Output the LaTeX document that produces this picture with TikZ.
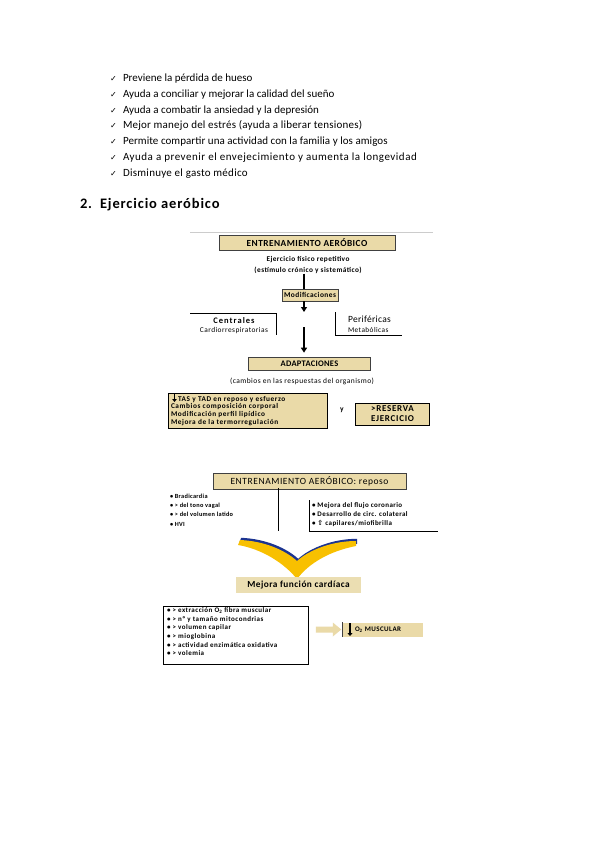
\documentclass[tikz,border=0pt]{standalone}
\usepackage{fontspec}
\setmainfont{Carlito}
\newfontfamily\djv{DejaVu Sans}
\usetikzlibrary{arrows.meta}
\definecolor{tanfill}{RGB}{234,218,168}
\definecolor{tanlight}{RGB}{235,222,178}
\definecolor{edge}{RGB}{64,64,64}
\definecolor{chevY}{RGB}{248,192,0}
\definecolor{chevB}{RGB}{28,52,145}
\newcommand\dgfont[3]{\addfontfeatures{LetterSpace=#3}\fontsize{#1}{#2}\selectfont}
\begin{document}
\begin{tikzpicture}[x=1pt,y=-1pt,
  txt/.style={inner sep=0,outer sep=0},
  chk/.style={txt,anchor=base west},
  tick/.style={txt,anchor=base west,font=\djv\fontsize{8}{9}\selectfont},
  tanbox/.style={draw=edge,line width=0.6pt,fill=tanfill,inner sep=0},
  heavy/.style={line width=2.6pt},
  heavyarrow/.style={line width=2.6pt,-{Triangle[width=6pt,length=5pt]}},
  thinline/.style={line width=0.6pt}
]
\useasboundingbox (0,0) rectangle (599,848);
\fill[white] (0,0) rectangle (599,848);

% checklist
\foreach \ls/\t [count=\i] in {0/Previene la pérdida de hueso,
  0/Ayuda a conciliar y mejorar la calidad del sueño,
  0/Ayuda a combatir la ansiedad y la depresión,
  2/Mejor manejo del estrés (ayuda a liberar tensiones),
  0.5/Permite compartir una actividad con la familia y los amigos,
  4.7/Ayuda a prevenir el envejecimiento y aumenta la longevidad,
  2.5/Disminuye el gasto médico}{
  \node[tick] (tick\i) at (110,{81.5+15.8*(\i-1)}) {✓};
  \node[chk,font=\dgfont{11}{12}{\ls}] (item\i) at (123,{81.5+15.8*(\i-1)}) {\t};
}

% heading
\node[txt,anchor=base west,font=\bfseries\dgfont{14.5}{16}{6}] (hnum) at (80,208.5) {2.};
\node[txt,anchor=base west,font=\bfseries\dgfont{14.5}{16}{6}] (head) at (100,208.5) {Ejercicio aeróbico};

% ---------- diagram 1
\draw[black!20,line width=0.6pt] (190,232) coordinate (tl1) -- (433,232) coordinate (tl2);
\node[tanbox,minimum width=176pt,minimum height=15pt,font=\bfseries\dgfont{9.3}{10}{5}] (ent1) at (307,242.5) {ENTRENAMIENTO AERÓBICO};
\node[txt,align=center,font=\bfseries\dgfont{7.3}{11}{6}] (ejer) at (308,265) {Ejercicio físico repetitivo\\(estímulo crónico y sistemático)};
\coordinate (ax) at (304,0);
\node[tanbox,minimum width=56pt,minimum height=12pt,font=\bfseries\dgfont{7.4}{9}{6}] (mod) at (310,295) {Modificaciones};
\draw[heavy] (ejer.south -| ax) -- (mod.north -| ax);
\coordinate (s1) at (304,312);
\draw[heavyarrow] (mod.south -| ax) -- (s1);

\node[txt,font=\bfseries\dgfont{8.5}{9}{12}] (cent) at (234,320.5) {Centrales};
\node[txt,font=\dgfont{7.4}{8}{6}] (cardio) at (234,331) {Cardiorrespiratorias};
\draw[thinline] (190,313) coordinate (cb1) -- (276.5,313) coordinate (cb2) -- (276.5,335) coordinate (cb3);
\node[txt,anchor=west,font=\dgfont{9.5}{10}{3}] (peri) at (348,319) {Periféricas};
\node[txt,anchor=west,font=\dgfont{7.3}{8}{6}] (metab) at (348,330) {Metabólicas};
\draw[thinline] (335.5,312) coordinate (pb1) -- (335.5,335) coordinate (pb2) -- (402,335) coordinate (pb3);

\node[tanbox,minimum width=122pt,minimum height=13pt,font=\bfseries\dgfont{8.5}{10}{3}] (adapt) at (309.5,363.5) {ADAPTACIONES};
\coordinate (s2) at (304,327);
\draw[heavyarrow,shorten >=4pt] (s2) -- (adapt.north -| ax);
\node[txt,font=\dgfont{7.5}{9}{6}] (camb) at (302,381) {(cambios en las respuestas del organismo)};

\node[tanbox,draw=black,line width=0.8pt,minimum width=159pt,minimum height=35pt] (lb) at (248,410.5) {};
\node[txt,anchor=base west,font=\bfseries\dgfont{7.3}{8}{8}] (lb1) at (178,401) {TAS y TAD en reposo y esfuerzo};
\node[txt,anchor=base west,font=\bfseries\dgfont{7.3}{8}{8}] (lb2) at (171,408.7) {Cambios composición corporal};
\node[txt,anchor=base west,font=\bfseries\dgfont{7.3}{8}{8}] (lb3) at (171,416.4) {Modificación perfil lipídico};
\node[txt,anchor=base west,font=\bfseries\dgfont{7.3}{8}{8}] (lb4) at (171,424.1) {Mejora de la termorregulación};
\draw[line width=1.8pt,-{Triangle[width=4.5pt,length=3pt]}] (174.5,394) -- (174.5,402);
\node[txt,font=\bfseries\dgfont{7.5}{8}{0}] (yy) at (342,410) {y};
\node[tanbox,draw=black,line width=0.8pt,minimum width=74pt,minimum height=22pt,align=center,font=\bfseries\dgfont{9}{10}{8}] (res) at (392.5,414) {>RESERVA\\EJERCICIO};

% ---------- diagram 2
\node[tanbox,minimum width=193pt,minimum height=16pt,font=\dgfont{9.5}{10}{6}] (ent2) at (309.5,481.5) {ENTRENAMIENTO AERÓBICO: reposo};
\node[txt,anchor=north west,align=left,font=\bfseries\dgfont{6.3}{9.2}{5}] (ll) at (170,494) {• Bradicardia\\• > del tono vagal\\• > del volumen latido\\• HVI};
\draw[thinline] (278,488) coordinate (v1) -- (278,531) coordinate (v2);
\node[txt,anchor=north west,align=left,font=\bfseries\dgfont{7}{9.2}{6}] (rl) at (312,502.5) {• Mejora del flujo coronario\\• Desarrollo de circ. colateral\\• {\djv ⇧} capilares/miofibrilla};
\draw[thinline] (309,500) coordinate (rb1) -- (309,531) coordinate (rb2) -- (438,531) coordinate (rb3);

% chevron
\fill[chevB,shift={(1.2,-2.2)}] (238,545) .. controls (262,549) and (284,563) .. (297,579) .. controls (309,563) and (330,551) .. (356,546) -- (356,541) .. controls (332,541) and (309,550) .. (297,561) .. controls (285,550) and (264,541) .. (240,540) -- cycle;
\fill[chevY] (238,545) .. controls (262,549) and (284,563) .. (297,579) .. controls (309,563) and (330,551) .. (356,546) -- (356,541) .. controls (332,541) and (309,550) .. (297,561) .. controls (285,550) and (264,541) .. (240,540) -- cycle;

\node[fill=tanlight,inner sep=0,minimum width=125pt,minimum height=16pt,font=\bfseries\dgfont{9.3}{10}{5}] (mej) at (298.5,585) {Mejora función cardíaca};

\node[draw=black,line width=0.8pt,minimum width=145pt,minimum height=58pt] (bb) at (236,635) {};
\node[txt,anchor=north west,align=left,font=\bfseries\dgfont{7}{8.7}{7}] (bl) at (167,607.5) {• > extracción O\textsubscript{2} fibra muscular\\• > nº y tamaño mitocondrias\\• > volumen capilar\\• > mioglobina\\• > actividad enzimática oxidativa\\• > volemia};

\node[fill=tanfill,inner sep=0,minimum width=80pt,minimum height=14pt] (o2) at (383,629.5) {};
\draw[edge,line width=0.9pt] (o2.north west) -- (o2.south west);
\begin{scope}[shift={(o2.west)}]
\fill[tanfill] (-27,-3) -- (-10,-3) -- (-10,-7) -- (-1.5,0) -- (-10,7) -- (-10,3) -- (-27,3) -- cycle;
\end{scope}
\draw[line width=2pt,-{Triangle[width=5pt,length=3pt]}] (350,623) -- (350,636);
\node[txt,anchor=west,font=\bfseries\dgfont{7}{8}{6}] (o2t) at (355,629.5) {O\textsubscript{2} MUSCULAR};
\end{tikzpicture}
\end{document}
